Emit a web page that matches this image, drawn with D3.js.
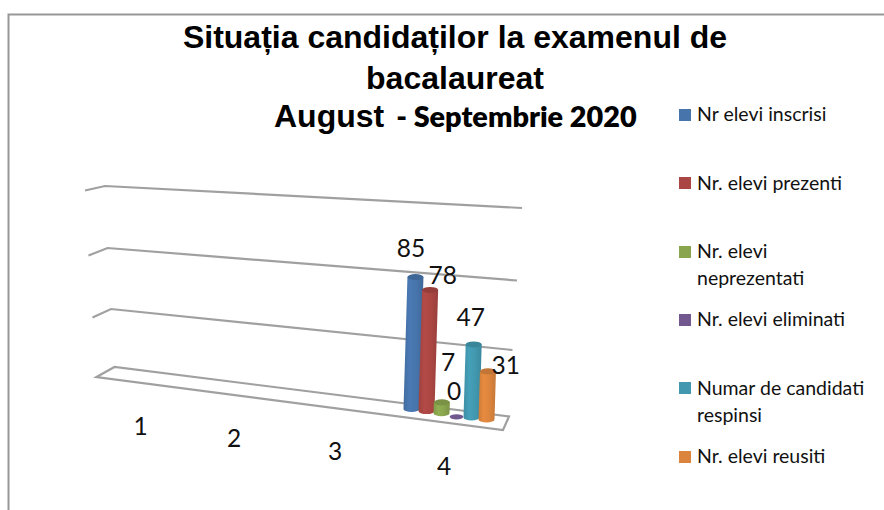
<!DOCTYPE html>
<html><head><meta charset="utf-8">
<script src="https://cdn.jsdelivr.net/npm/d3@7"></script>
<style>html,body{margin:0;padding:0;background:#fff}svg{display:block}</style>
</head><body><div id="c"></div>
<script>
const categories = ["1","2","3","4"];
const seriesNames = [["Nr elevi inscrisi"],["Nr. elevi prezenti"],["Nr. elevi","neprezentati"],["Nr. elevi eliminati"],["Numar de candidati","respinsi"],["Nr. elevi reusiti"]];
const seriesValues = [85,78,7,0,47,31];
const seriesColors = ["#4674AB","#AA4643","#89A54E","#71588F","#4198AF","#DB843D"];
const gridTicks = [0,40,80,120];

const W=884,H=510;
const svg=d3.select("#c").append("svg").attr("width",W).attr("height",H);
const defs=svg.append("defs");
const font="Lato, Carlito, sans-serif";

// frame
svg.append("path").attr("d","M8.5,510V14.5H884").attr("fill","none").attr("stroke","#979797").attr("stroke-width",2);

// title
const title=svg.append("g").attr("font-family","'Liberation Sans',Arial,sans-serif").attr("font-weight","700").attr("fill","#000");
title.append("text").attr("x",455).attr("y",48).attr("text-anchor","middle").attr("font-size",32).text("Situația candidaților la examenul de");
title.append("text").attr("x",455).attr("y",89).attr("text-anchor","middle").attr("font-size",32).text("bacalaureat");
const t3=title.append("text").attr("x",274).attr("y",127).attr("font-size",32);
t3.append("tspan").text("August");
t3.append("tspan").attr("font-family",font).attr("font-weight","800").attr("dx",12).attr("font-size",28.8).text("- Septembrie 2020");

// perspective scales of the hidden value axis
const leftX=d3.scaleLinear().domain(gridTicks).range([114.5,111,107.5,105]);
const leftY=d3.scaleLinear().domain(gridTicks).range([367,309,248,186]);
const rightX=d3.scaleLinear().domain(gridTicks).range([509,512.5,517,522]);
const rightY=d3.scaleLinear().domain(gridTicks).range([416.5,350,280.5,208]);
const stubX=d3.scaleLinear().domain(gridTicks).range([96.5,92.5,88.5,85]);
const stubY=d3.scaleLinear().domain(gridTicks).range([377,317.5,255.5,190.5]);
const line=d3.line();
const gridCol="#a0a0a0";
svg.append("g").selectAll("path").data(gridTicks.slice(1)).join("path")
  .attr("d",t=>line([[stubX(t),stubY(t)],[leftX(t),leftY(t)],[rightX(t),rightY(t)]]))
  .attr("fill","none").attr("stroke",gridCol).attr("stroke-width",2.2);
// floor
svg.append("path").attr("d",line([[stubX(0),stubY(0)],[leftX(0),leftY(0)],[rightX(0),rightY(0)],[503,430]])+"Z")
  .attr("fill","#fff").attr("stroke",gridCol).attr("stroke-width",2.2);

// bars
const bandX=d3.scalePoint().domain(d3.range(seriesValues.length)).range([411.5,486.5]);
const baseY=d3.scaleLinear().domain([411.5,486.5]).range([409,419.5]);
const hScale=d3.scaleLinear().domain([0,85]).range([0,132]);
const rx=8,ry=3;
seriesColors.forEach((c,i)=>{
  const k=d3.color(c);
  const g=defs.append("linearGradient").attr("id","g"+i);
  [[0,k.darker(0.2)],[0.3,k.brighter(0.15)],[0.65,k],[1,k.darker(0.3)]].forEach(([o,col])=>g.append("stop").attr("offset",o).attr("stop-color",col));
});
const bars=svg.append("g").selectAll("g").data(seriesValues).join("g");
bars.each(function(v,i){
  const g=d3.select(this), xb=bandX(i), yb=baseY(xb), h=hScale(v), xt=xb+h*0.03, yt=yb-h;
  if(v===0){
    g.append("ellipse").attr("cx",xb).attr("cy",yb+1.5).attr("rx",rx-1.2).attr("ry",ry-0.4).attr("fill",seriesColors[i]);
    return;
  }
  g.append("path").attr("d",`M${xb-rx},${yb}L${xt-rx},${yt}L${xt+rx},${yt}L${xb+rx},${yb}A${rx},${ry} 0 0 1 ${xb-rx},${yb}Z`).attr("fill",`url(#g${i})`);
  g.append("ellipse").attr("cx",xt).attr("cy",yt).attr("rx",rx).attr("ry",ry).attr("fill",d3.color(seriesColors[i]).darker(0.35));
});

// data labels
const labelX=[411,442.7,448,454,470.7,505.7], labelY=[257,283.5,371,399.5,326,374];
svg.append("g").attr("font-family",font).attr("font-size",24.5).attr("fill","#111").attr("text-anchor","middle")
  .selectAll("text").data(seriesValues).join("text")
  .attr("x",(d,i)=>labelX[i]).attr("y",(d,i)=>labelY[i]).text(d=>d);

// category labels
const catPosX=d3.scaleOrdinal().domain(categories).range([140.5,234,335,444]);
const catPosY=d3.scaleOrdinal().domain(categories).range([434.5,446.5,459.5,474.5]);
svg.append("g").attr("font-family",font).attr("font-size",24.5).attr("fill","#111").attr("text-anchor","middle")
  .selectAll("text").data(categories).join("text")
  .attr("x",d=>catPosX(d)).attr("y",d=>catPosY(d)).text(d=>d);

// legend
const swatchY=[109,177,246,314,382,451], textY=[121,190,258,326,395,463];
const leg=svg.append("g").attr("font-family",font).attr("font-size",19.5).attr("fill","#111");
seriesNames.forEach((lines,i)=>{
  leg.append("rect").attr("x",679).attr("y",swatchY[i]).attr("width",12).attr("height",12).attr("fill",seriesColors[i]);
  lines.forEach((s,j)=>leg.append("text").attr("x",697).attr("y",textY[i]+j*26.5).text(s));
});
</script></body></html>
